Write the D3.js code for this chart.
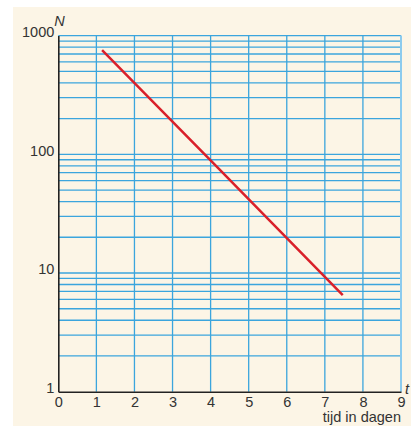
<!DOCTYPE html>
<html><head><meta charset="utf-8">
<script src="https://cdn.jsdelivr.net/npm/d3@7/dist/d3.min.js"></script>
<style>body{margin:0;background:#fff}svg{display:block}</style>
</head><body>
<svg id="c" width="411" height="426"></svg>
<script>
const xTicks = [0,1,2,3,4,5,6,7,8,9];
const yTickLabels = [1,10,100,1000];
const lineT = [1.15, 4, 7.47];
const lineN = [756, 89, 6.5];
const xTitle = "tijd in dagen";
const xAxisSymbol = "t";
const yAxisSymbol = "N";

const svg = d3.select("#c");
svg.append("rect").attr("x",13).attr("y",7).attr("width",398).attr("height",419).attr("fill","#fcf5e6");

const x = d3.scaleLinear().domain([0,9]).range([58.3,401]);
const y = d3.scaleLog().domain([1,1000]).range([391.7,35.6]);

const minor = [];
for (let d of [1,10,100]) for (let k=1;k<=9;k++) minor.push(d*k);
minor.push(1000);

const grid = svg.append("g").attr("stroke","#3ba5dd").attr("stroke-width",1.3);
grid.selectAll("line.h").data(minor.filter(v=>v>1)).join("line")
  .attr("x1",x(0)).attr("x2",x(9)).attr("y1",d=>y(d)).attr("y2",d=>y(d));
grid.selectAll("line.v").data(xTicks.filter(v=>v>0 && v<9)).join("line").attr("class","v")
  .attr("x1",d=>x(d)).attr("x2",d=>x(d)).attr("y1",y(1)).attr("y2",y(1000));
svg.append("line").attr("x1",x(9)).attr("x2",x(9)).attr("y1",y(1)).attr("y2",y(1000))
  .attr("stroke","#8ccbee").attr("stroke-width",2);

const font = "Liberation Sans, Arial, sans-serif";
// axes
const xAxis = d3.axisBottom(x).tickValues(xTicks).tickSize(0).tickPadding(5);
const gx = svg.append("g").attr("transform",`translate(0,${y(1)})`).call(xAxis);
gx.select(".domain").attr("stroke","#222").attr("stroke-width",1.6);
gx.selectAll("text").attr("font-family",font).attr("font-size",14.5).attr("fill","#333");

const yAxis = d3.axisLeft(y).tickValues(yTickLabels).tickFormat(d3.format("d")).tickSize(0).tickPadding(4);
const gy = svg.append("g").attr("transform",`translate(${x(0)},0)`).call(yAxis);
gy.select(".domain").attr("stroke","#222").attr("stroke-width",1.6);
gy.selectAll("text").attr("font-family",font).attr("font-size",14.5).attr("fill","#333").attr("dy","0.05em");

// line
const data = lineT.map((t,i)=>({t, n: lineN[i]}));
svg.append("path").datum(data)
  .attr("d", d3.line().x(d=>x(d.t)).y(d=>y(d.n)))
  .attr("fill","none").attr("stroke","#d9202a").attr("stroke-width",2.5);

// labels
svg.append("text").attr("x",x(0)-4).attr("y",y(1000)-10).text(yAxisSymbol)
  .attr("font-family",font).attr("font-style","italic").attr("font-size",14.5).attr("fill","#333");
svg.append("text").attr("x",x(9)+4).attr("y",y(1)+2).text(xAxisSymbol)
  .attr("font-family",font).attr("font-style","italic").attr("font-size",14.5).attr("fill","#333");
svg.append("text").attr("x",x(9)).attr("y",y(1)+30).attr("text-anchor","end").text(xTitle)
  .attr("font-family",font).attr("font-size",14.5).attr("fill","#333");
</script>
</body></html>
